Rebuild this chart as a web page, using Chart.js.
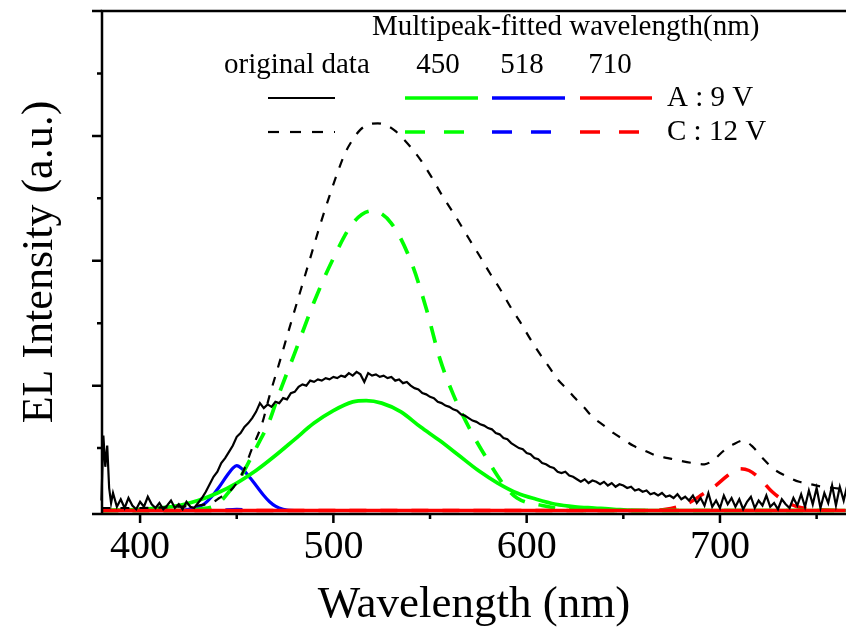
<!DOCTYPE html>
<html>
<head>
<meta charset="utf-8">
<script src="https://cdn.jsdelivr.net/npm/chart.js@4.4.1/dist/chart.umd.min.js"></script>
<style>
  html, body { margin: 0; padding: 0; background: #fff; }
  #wrap { width: 846px; height: 640px; }
</style>
</head>
<body>
<div id="wrap"><canvas id="elChart" width="846" height="640"></canvas></div>
<script>
  // Original spectrum A (9 V), noisy
  const wlA = [380, 381, 382, 383, 384, 385,
    386, 388, 390, 392, 394, 396, 398, 400, 402, 404,
    406, 408, 410, 412, 414, 416, 418, 420, 422, 424,
    426, 428, 430, 432, 434, 436, 438, 440, 442, 444,
    446, 448, 450, 452, 454, 456, 458, 460, 462, 464,
    466, 468, 470, 472, 474, 476, 478, 480, 482, 484,
    486, 488, 490, 492, 494, 496, 498, 500, 502, 504,
    506, 508, 510, 512, 514, 516, 518, 520, 522, 524,
    526, 528, 530, 532, 534, 536, 538, 540, 542, 544,
    546, 548, 550, 552, 554, 556, 558, 560, 562, 564,
    566, 568, 570, 572, 574, 576, 578, 580, 582, 584,
    586, 588, 590, 592, 594, 596, 598, 600, 602, 604,
    606, 608, 610, 612, 614, 616, 618, 620, 622, 624,
    626, 628, 630, 632, 634, 636, 638, 640, 642, 644,
    646, 648, 650, 652, 654, 656, 658, 660, 662, 664,
    666, 668, 670, 672, 674, 676, 678, 680, 682, 684,
    686, 688, 690, 692, 694, 696, 698, 700, 702, 704,
    706, 708, 710, 712, 714, 716, 718, 720, 722, 724,
    726, 728, 730, 732, 734, 736, 738, 740, 742, 744,
    746, 748, 750, 752, 754, 756, 758, 760, 762, 764,
    766];
  const intA = [0.08, 0.60, 0.35, 0.52, 0.18, 0.06,
    0.14, 0.03, 0.09, 0.02, 0.10, 0.04, 0.01, 0.07, 0.03, 0.11,
    0.05, 0.02, 0.06, 0.01, 0.04, 0.08, 0.02, 0.05, 0.01, 0.07,
    0.03, 0.02, 0.06, 0.10, 0.15, 0.21, 0.27, 0.31, 0.38, 0.42,
    0.47, 0.52, 0.59, 0.62, 0.67, 0.70, 0.74, 0.79, 0.86, 0.82,
    0.85, 0.83, 0.87, 0.86, 0.90, 0.89, 0.94, 0.95, 0.99, 1.01,
    1.00, 1.04, 1.03, 1.05, 1.04, 1.06, 1.05, 1.07, 1.06, 1.08,
    1.07, 1.10, 1.08, 1.11, 1.09, 1.03, 1.10, 1.08, 1.09, 1.07,
    1.08, 1.06, 1.07, 1.04, 1.05, 1.02, 1.03, 1.00, 0.98, 0.97,
    0.94, 0.93, 0.91, 0.90, 0.87, 0.86, 0.84, 0.83, 0.81, 0.80,
    0.77, 0.76, 0.74, 0.72, 0.71, 0.69, 0.68, 0.66, 0.65, 0.62,
    0.61, 0.58, 0.57, 0.54, 0.52, 0.50, 0.49, 0.46, 0.45, 0.42,
    0.41, 0.38, 0.37, 0.35, 0.34, 0.31, 0.30, 0.31, 0.28, 0.27,
    0.25, 0.23, 0.25, 0.22, 0.24, 0.23, 0.21, 0.23, 0.20, 0.22,
    0.19, 0.21, 0.20, 0.18, 0.19, 0.16, 0.17, 0.15, 0.16, 0.13,
    0.14, 0.12, 0.14, 0.11, 0.12, 0.10, 0.13, 0.09, 0.11, 0.08,
    0.12, 0.06, 0.10, 0.04, 0.14, 0.03, 0.08, 0.02, 0.12, 0.05,
    0.10, 0.03, 0.09, 0.01, 0.07, 0.11, 0.02, 0.08, 0.04, 0.12,
    0.03, 0.06, 0.01, 0.09, 0.05, 0.02, 0.10, 0.04, 0.13, 0.03,
    0.16, 0.05, 0.18, 0.02, 0.14, 0.06, 0.20, 0.04, 0.19, 0.08,
    0.21];

  // Original spectrum C (12 V)
  const wlC = [380, 400, 420, 430, 434, 437, 441, 445, 448, 453, 458, 463, 467, 472, 478, 483,
    488, 493, 498, 502, 506, 510, 514, 518, 523, 528, 532, 536, 540, 545, 550, 556, 563,
    570, 576, 581, 586, 592, 597, 602, 607, 612, 616, 621, 625, 630, 634, 640, 645, 650,
    655, 661, 667, 673, 679, 686, 692, 697, 702, 707, 712, 717, 722, 728, 735, 741, 747,
    753, 759, 765];
  const intC = [0.02, 0.02, 0.03, 0.04, 0.05, 0.06, 0.10, 0.14, 0.18, 0.30, 0.50, 0.69, 0.92, 1.18, 1.50, 1.76,
    2.02, 2.28, 2.52, 2.70, 2.86, 2.97, 3.05, 3.09, 3.10, 3.08, 3.04, 2.98, 2.91, 2.81, 2.69, 2.53, 2.36,
    2.18, 2.03, 1.90, 1.78, 1.62, 1.50, 1.37, 1.25, 1.14, 1.05, 0.97, 0.90, 0.82, 0.75, 0.68, 0.62, 0.57,
    0.52, 0.48, 0.44, 0.42, 0.40, 0.38, 0.37, 0.41, 0.48, 0.53, 0.56, 0.51, 0.42, 0.33, 0.27, 0.23, 0.21,
    0.19, 0.18, 0.17];

  // Fitted peaks
  const wlGreenA = [380, 400, 410, 420, 430, 440, 450, 460, 470, 480, 490, 500, 510, 517, 525, 535, 545,
    555, 565, 575, 585, 595, 605, 615, 625, 635, 645, 660, 765];
  const fitGreenA = [0.00, 0.01, 0.02, 0.04, 0.08, 0.14, 0.22, 0.32, 0.44, 0.57, 0.70, 0.80, 0.87, 0.88, 0.86, 0.79, 0.67,
    0.56, 0.44, 0.32, 0.22, 0.14, 0.09, 0.05, 0.03, 0.02, 0.01, 0.00, 0.00];

  const wlGreenC = [380, 420, 430, 440, 447, 452, 457, 462, 466, 472, 480, 490, 500, 510, 520, 530, 540,
    548, 555, 562, 571, 580, 588, 595, 608, 620, 640, 765];
  const fitGreenC = [0.00, 0.00, 0.01, 0.05, 0.17, 0.27, 0.41, 0.56, 0.68, 0.94, 1.26, 1.67, 2.02, 2.30, 2.40, 2.30, 2.00,
    1.62, 1.22, 0.93, 0.64, 0.40, 0.21, 0.10, 0.04, 0.01, 0.00, 0.00];

  const wlBlueA = [380, 420, 428, 433, 437, 441, 445, 448, 450, 453, 457, 460.5, 464, 467, 470, 474, 480, 765];
  const fitBlueA = [0.00, 0.00, 0.02, 0.05, 0.11, 0.19, 0.28, 0.34, 0.36, 0.33, 0.26, 0.19, 0.12, 0.07, 0.035, 0.01, 0.00, 0.00];

  const wlBlueC = [380, 440, 450, 460, 765];
  const fitBlueC = [0.00, 0.00, 0.01, 0.00, 0.00];

  const wlRedA = [380, 765];
  const fitRedA = [0.00, 0.00];

  const wlRedC = [380, 660, 672, 678, 685, 691, 697, 704, 710, 715, 721, 727, 733, 740, 748, 765];
  const fitRedC = [0.00, 0.00, 0.01, 0.03, 0.07, 0.13, 0.19, 0.28, 0.335, 0.32, 0.25, 0.15, 0.08, 0.03, 0.01, 0.00];

  // Axis ticks
  const xMajorTicks = [400, 500, 600, 700];
  const xMinorTicks = [450, 550, 650, 750];
  const yMajorTicks = [1, 2, 3, 4];
  const yMinorTicks = [0.5, 1.5, 2.5, 3.5];

  // Legend texts
  const legendHeader = 'Multipeak-fitted wavelength(nm)';
  const legendColumns = ['original data', '450', '518', '710'];
  const legendColors = ['#000000', '#00ff00', '#0000ff', '#ff0000'];
  const legendRows = ['A : 9 V', 'C : 12 V'];

  const SERIF = '"Liberation Serif", "Times New Roman", serif';

  function toPoints(xs, ys) {
    return xs.map((x, i) => ({ x: x, y: ys[i] }));
  }

  // Helper: builds one line dataset
  function lineSet(label, xs, ys, color, width, dash, smooth) {
    return {
      label: label,
      data: toPoints(xs, ys),
      borderColor: color,
      borderWidth: width,
      borderDash: dash,
      pointRadius: 0,
      fill: false,
      tension: 0,
      cubicInterpolationMode: smooth ? 'monotone' : 'default',
      clip: false
    };
  }

  // Axis frame, ticks and the custom legend
  const framePlugin = {
    id: 'framePlugin',
    afterDraw(chart) {
      const ctx = chart.ctx;
      const area = chart.chartArea;
      const xs = chart.scales.x;
      const ys = chart.scales.y;
      ctx.save();
      ctx.strokeStyle = '#000';
      ctx.lineWidth = 2.5;
      ctx.lineCap = 'butt';

      // frame lines (bottom axis line carries the major tick for zero)
      ctx.beginPath();
      ctx.moveTo(area.left, area.top);
      ctx.lineTo(area.right, area.top);
      ctx.moveTo(area.left, area.top - 1.2);
      ctx.lineTo(area.left, area.bottom + 1.2);
      ctx.moveTo(area.left - 10, area.bottom + 1);
      ctx.lineTo(area.right, area.bottom + 1);
      ctx.stroke();

      // y ticks point outward (left)
      ctx.beginPath();
      yMajorTicks.forEach(v => {
        const y = ys.getPixelForValue(v);
        ctx.moveTo(area.left - 10, y);
        ctx.lineTo(area.left, y);
      });
      yMinorTicks.forEach(v => {
        const y = ys.getPixelForValue(v);
        ctx.moveTo(area.left - 5, y);
        ctx.lineTo(area.left, y);
      });
      // x ticks point outward (down)
      xMajorTicks.forEach(v => {
        const x = xs.getPixelForValue(v);
        ctx.moveTo(x, area.bottom);
        ctx.lineTo(x, area.bottom + 10);
      });
      xMinorTicks.forEach(v => {
        const x = xs.getPixelForValue(v);
        ctx.moveTo(x, area.bottom);
        ctx.lineTo(x, area.bottom + 6);
      });
      ctx.stroke();

      // legend
      ctx.fillStyle = '#000';
      ctx.font = '29px ' + SERIF;
      ctx.textBaseline = 'middle';
      ctx.textAlign = 'left';
      ctx.fillText(legendHeader, 372, 27);
      ctx.fillText(legendColumns[0], 224, 65);
      ctx.textAlign = 'center';
      const colCenters = [438, 522, 610];
      legendColumns.slice(1).forEach((t, i) => ctx.fillText(t, colCenters[i], 65));

      const sampleX = [[268, 335], [405, 478], [492, 565], [580, 652]];
      const rowY = [98, 132];
      ctx.textAlign = 'left';
      legendRows.forEach((t, r) => {
        ctx.fillText(t, 667, rowY[r]);
        sampleX.forEach((sx, c) => {
          ctx.strokeStyle = legendColors[c];
          ctx.lineWidth = c === 0 ? 2.2 : 3.5;
          if (r === 0) ctx.setLineDash([]);
          else ctx.setLineDash(c === 0 ? [11, 11] : [20, 19]);
          ctx.beginPath();
          ctx.moveTo(sx[0], rowY[r]);
          ctx.lineTo(sx[1], rowY[r]);
          ctx.stroke();
        });
      });
      ctx.restore();
    }
  };

  const ctx = document.getElementById('elChart');
  new Chart(ctx, {
    type: 'line',
    data: {
      // first dataset ends up on top
      datasets: [
        lineSet('original data A', wlA, intA, '#000000', 2.2, [], false),
        lineSet('original data C', wlC, intC, '#000000', 2.2, [9, 10], true),
        lineSet('710 A', wlRedA, fitRedA, '#ff0000', 3.5, [], false),
        lineSet('450 A', wlGreenA, fitGreenA, '#00ff00', 3.7, [], true),
        lineSet('450 C', wlGreenC, fitGreenC, '#00ff00', 3.7, [17, 14], true),
        lineSet('518 A', wlBlueA, fitBlueA, '#0000ff', 3.2, [], true),
        lineSet('518 C', wlBlueC, fitBlueC, '#0000ff', 3.2, [17, 14], true),
        lineSet('710 C', wlRedC, fitRedC, '#ff0000', 3.5, [17, 14], true)
      ]
    },
    options: {
      responsive: false,
      animation: false,
      devicePixelRatio: 1,
      layout: { padding: { top: 11, right: 0, left: 0, bottom: 0 } },
      plugins: {
        legend: { display: false },
        tooltip: { enabled: false }
      },
      scales: {
        x: {
          type: 'linear',
          min: 380.3,
          max: 765.2,
          grid: { display: false, drawTicks: false },
          border: { display: false },
          ticks: {
            stepSize: 100,
            includeBounds: false,
            autoSkip: false,
            maxRotation: 0,
            padding: 10,
            color: '#000',
            font: { family: SERIF, size: 40 },
            callback: v => (xMajorTicks.includes(v) ? String(v) : '')
          },
          title: {
            display: true,
            text: 'Wavelength (nm)',
            color: '#000',
            font: { family: SERIF, size: 45 },
            padding: { top: 0, bottom: 8 }
          },
          afterFit: scale => { scale.height = 127; }
        },
        y: {
          min: -0.02,
          max: 4,
          grid: { display: false, drawTicks: false },
          border: { display: false },
          ticks: { display: false, stepSize: 0.5 },
          title: {
            display: true,
            text: 'EL Intensity (a.u.)',
            color: '#000',
            font: { family: SERIF, size: 44 },
            padding: { top: 14, bottom: 0 }
          },
          afterFit: scale => { scale.width = 102; }
        }
      }
    },
    plugins: [framePlugin]
  });
</script>
</body>
</html>
